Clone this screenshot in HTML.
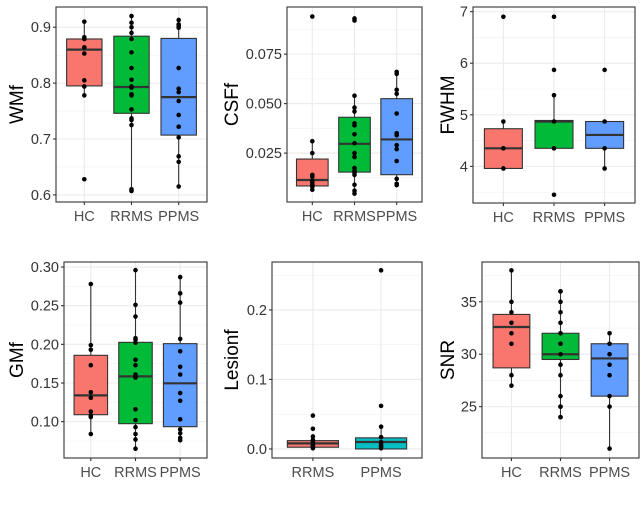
<!DOCTYPE html>
<html><head><meta charset="utf-8"><style>
body{margin:0;background:#fff;}
svg text{font-family:"Liberation Sans",Arial,sans-serif;}
</style></head><body>
<svg id="chart" width="644" height="510" viewBox="0 0 644 510" xmlns="http://www.w3.org/2000/svg"></svg>
<script>
// ---- data arrays ----
const wmfCats = ["HC","RRMS","PPMS"];
const wmfStats = [[0.778,0.795,0.86,0.879,0.91],[0.61,0.746,0.793,0.884,0.92],[0.615,0.707,0.775,0.88,0.913]];
const wmfPoints = [[0.91,0.882,0.879,0.864,0.853,0.805,0.794,0.778,0.628],
 [0.92,0.908,0.90,0.89,0.879,0.855,0.827,0.806,0.794,0.792,0.78,0.778,0.753,0.737,0.734,0.725,0.61,0.607],
 [0.913,0.905,0.902,0.899,0.827,0.79,0.784,0.768,0.743,0.722,0.703,0.669,0.659,0.615]];
const wmfTicks = [0.6,0.7,0.8,0.9];
const wmfTickLabels = ["0.6","0.7","0.8","0.9"];

const csfCats = ["HC","RRMS","PPMS"];
const csfStats = [[0.0057,0.0084,0.0114,0.022,0.0315],[0.0045,0.0154,0.0297,0.0431,0.054],[0.0086,0.0141,0.0319,0.0525,0.0658]];
const csfPoints = [[0.094,0.031,0.025,0.014,0.013,0.011,0.010,0.009,0.008,0.0065],
 [0.093,0.092,0.054,0.048,0.046,0.040,0.039,0.0345,0.030,0.025,0.023,0.0175,0.016,0.015,0.014,0.009,0.006,0.0045],
 [0.066,0.065,0.057,0.055,0.045,0.035,0.034,0.029,0.027,0.021,0.012,0.0095,0.0088]];
const csfTicks = [0.025,0.05,0.075];
const csfTickLabels = ["0.025","0.050","0.075"];

const fwhmCats = ["HC","RRMS","PPMS"];
const fwhmStats = [[3.96,3.96,4.35,4.73,4.87],[4.35,4.35,4.87,4.89,5.38],[3.96,4.35,4.61,4.87,4.87]];
const fwhmPoints = [[6.9,4.87,4.35,3.96],[6.9,5.87,5.38,4.87,4.35,3.45],[5.87,4.87,4.35,3.96]];
const fwhmTicks = [4,5,6,7];
const fwhmTickLabels = ["4","5","6","7"];

const gmfCats = ["HC","RRMS","PPMS"];
const gmfStats = [[0.0836,0.109,0.134,0.1858,0.2776],[0.065,0.0974,0.1586,0.2026,0.2957],[0.0763,0.0935,0.1496,0.2009,0.2866]];
const gmfPoints = [[0.278,0.199,0.193,0.173,0.138,0.131,0.113,0.108,0.106,0.084],
 [0.296,0.251,0.236,0.208,0.206,0.202,0.180,0.173,0.161,0.159,0.157,0.116,0.102,0.093,0.084,0.077,0.065],
 [0.287,0.266,0.254,0.207,0.191,0.171,0.161,0.137,0.127,0.103,0.090,0.085,0.079,0.076]];
const gmfTicks = [0.10,0.15,0.20,0.25,0.30];
const gmfTickLabels = ["0.10","0.15","0.20","0.25","0.30"];

const lesCats = ["RRMS","PPMS"];
const lesStats = [[0.0,0.0025,0.008,0.012,0.018],[0.0,0.0,0.010,0.016,0.033]];
const lesPoints = [[0.048,0.029,0.018,0.013,0.010,0.008,0.006,0.004,0.002,0.001],
 [0.257,0.062,0.032,0.017,0.010,0.008,0.005,0.003,0.001]];
const lesTicks = [0.0,0.1,0.2];
const lesTickLabels = ["0.0","0.1","0.2"];

const snrCats = ["HC","RRMS","PPMS"];
const snrStats = [[27,28.7,32.6,33.8,38],[24,29.5,30,32,36],[21,26,29.6,31,32]];
const snrPoints = [[38,35,34,33,32,31,28,27],[36,36,35,34,33,32,31,30,29,28,26,25,25,24,24],[32,31,30,29,28,26,25,21]];
const snrTicks = [25,30,35];
const snrTickLabels = ["25","30","35"];

const col3 = ["#F8766D","#00BA38","#619CFF"];
const col2 = ["#F8766D","#00BFC4"];

const svg = document.getElementById('chart');
const NS = "http://www.w3.org/2000/svg";
function mk(tag, attrs, parent){const e=document.createElementNS(NS,tag);for(const k in attrs)e.setAttribute(k,attrs[k]);(parent||svg).appendChild(e);return e;}

function panel(name, title, cats, stats, pts, ticks, tickLabels, colors, rect, domain, titleX){
  const g = mk('g',{});
  
  
  const [x0,y0,x1,y1]=rect;
  const y = v => y1 - (v-domain[0])/(domain[1]-domain[0])*(y1-y0);
  const unit = (x1-x0)/(cats.length+0.2);
  const x = i => x0 + (0.6+i)*unit;
  mk('rect',{x:x0,y:y0,width:x1-x0,height:y1-y0,fill:'#fff'},g);
  const step = ticks[1]-ticks[0];
  for(let k=-1;k<ticks.length;k++){
    const v = ticks[0]+(k+0.5)*step;
    if(v>domain[0]&&v<domain[1]){mk('line',{x1:x0,x2:x1,y1:y(v),y2:y(v),stroke:'#f2f2f2','stroke-width':0.6},g);}
  }
  ticks.forEach(v=>mk('line',{x1:x0,x2:x1,y1:y(v),y2:y(v),stroke:'#ebebeb','stroke-width':1.1},g));
  cats.forEach((c,i)=>mk('line',{x1:x(i),x2:x(i),y1:y0,y2:y1,stroke:'#ebebeb','stroke-width':1.1},g));
  stats.forEach((s,i)=>{
    const bw = unit*0.75, cx=x(i);
    const wl = mk('line',{x1:cx,x2:cx,y1:y(s[4]),y2:y(s[0]),stroke:'#333','stroke-width':1.1},g);
    
    
    const b = mk('rect',{x:cx-bw/2,y:y(s[3]),width:bw,height:Math.max(0.5,y(s[1])-y(s[3])),fill:colors[i],stroke:'#333','stroke-width':1.1},g);
    
    
    mk('line',{x1:cx-bw/2,x2:cx+bw/2,y1:y(s[2]),y2:y(s[2]),stroke:'#333','stroke-width':2.2},g);
  });
  pts.forEach((arr,i)=>arr.forEach(v=>{
    const p = mk('circle',{cx:x(i),cy:y(v),r:2.3,fill:'#000'},g);
    
    
  }));
  mk('rect',{x:x0,y:y0,width:x1-x0,height:y1-y0,fill:'none',stroke:'#333','stroke-width':1.1},g);
  ticks.forEach((v,k)=>{
    mk('line',{x1:x0-3,x2:x0,y1:y(v),y2:y(v),stroke:'#333','stroke-width':1.1},g);
    const t = mk('text',{x:x0-5,y:y(v)+5,'text-anchor':'end','font-size':14.5,fill:'#333'},g);
    t.textContent = tickLabels[k];
    
    
  });
  cats.forEach((c,i)=>{
    mk('line',{x1:x(i),x2:x(i),y1:y1,y2:y1+3,stroke:'#333','stroke-width':1.1},g);
    const t = mk('text',{x:x(i),y:y1+19,'text-anchor':'middle','font-size':14.5,fill:'#4d4d4d'},g);
    t.textContent = c;
    
    
  });
  const cy=(y0+y1)/2;
  const tt = mk('text',{x:titleX,y:cy,'text-anchor':'middle','font-size':19,fill:'#000',transform:`rotate(-90 ${titleX} ${cy})`},g);
  tt.textContent = title;
  
  
}

panel('wmf','WMf',wmfCats,wmfStats,wmfPoints,wmfTicks,wmfTickLabels,col3,[56,7,207,202],[0.5873,0.9362],23);
panel('csff','CSFf',csfCats,csfStats,csfPoints,csfTicks,csfTickLabels,col3,[287,7,422,202],[0.0003,0.0988],238);
panel('fwhm','FWHM',fwhmCats,fwhmStats,fwhmPoints,fwhmTicks,fwhmTickLabels,col3,[473,7,635,203],[3.29,7.09],454);
panel('gmf','GMf',gmfCats,gmfStats,gmfPoints,gmfTicks,gmfTickLabels,col3,[64,262,207,458],[0.053,0.3065],23);
panel('lesionf','Lesionf',lesCats,lesStats,lesPoints,lesTicks,lesTickLabels,col2,[272,262,422,458],[-0.013,0.269],238);
panel('snr','SNR',snrCats,snrStats,snrPoints,snrTicks,snrTickLabels,col3,[482,262,639,458],[20.1,38.8],454);
</script>
</body></html>
